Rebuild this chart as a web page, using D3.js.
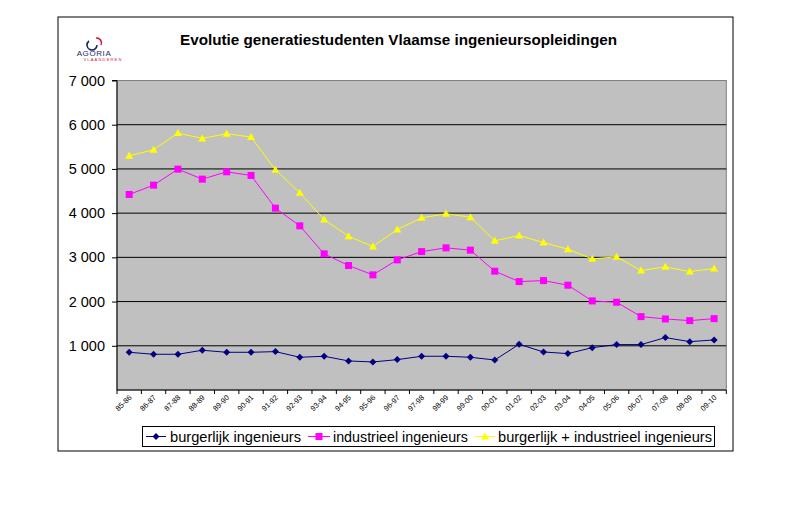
<!DOCTYPE html>
<html>
<head>
<meta charset="utf-8">
<script src="https://cdn.jsdelivr.net/npm/d3@7"></script>
<style>
html,body{margin:0;padding:0;background:#fff;}
svg{display:block;font-family:Arial,"Liberation Sans",sans-serif;}
</style>
</head>
<body>
<svg id="chart" width="791" height="527"></svg>
<script>
const categories = ["85-86","86-87","87-88","88-89","89-90","90-91","91-92","92-93","93-94","94-95","95-96","96-97","97-98","98-99","99-00","00-01","01-02","02-03","03-04","04-05","05-06","06-07","07-08","08-09","09-10"];
const burgerlijk = [853,808,808,899,853,853,868,740,763,657,634,687,763,763,740,679,1034,860,823,958,1027,1027,1185,1094,1132];
const industrieel = [4422,4633,4995,4769,4935,4852,4113,3713,3079,2815,2604,2943,3131,3215,3163,2687,2452,2475,2370,2015,1985,1660,1607,1569,1614];
const totaal = [5298,5434,5811,5690,5796,5721,4981,4460,3856,3479,3245,3630,3894,3985,3909,3373,3494,3336,3185,2966,3011,2702,2785,2679,2747];
const yTicks = [1000,2000,3000,4000,5000,6000,7000];
const seriesNames = ["burgerlijk ingenieurs","industrieel ingenieurs","burgerlijk + industrieel ingenieurs"];
const title = "Evolutie generatiestudenten Vlaamse ingenieursopleidingen";

const svg = d3.select("#chart");
const L = 117, R = 726.3, T = 80.5, B = 390;

// outer chart border
svg.append("rect").attr("x",58).attr("y",17).attr("width",675).attr("height",434)
  .attr("fill","#fff").attr("stroke","#000").attr("stroke-width",1);

// logo
const logo = svg.append("g");
logo.append("path").attr("d","M89,41 a5,5 0 1,0 8,4").attr("fill","none").attr("stroke","#1a2a6c").attr("stroke-width",1.6);
logo.append("path").attr("d","M96,38 a5,5 0 0,1 5,7").attr("fill","none").attr("stroke","#d4143c").attr("stroke-width",1.6);
logo.append("text").attr("x",94).attr("y",56).attr("text-anchor","middle")
  .attr("font-size",8).attr("fill","#1a2a6c").attr("letter-spacing",0.6).text("AGORIA");
logo.append("text").attr("x",103).attr("y",61).attr("text-anchor","middle")
  .attr("font-size",4).attr("fill","#d4143c").attr("letter-spacing",1.2).text("VLAANDEREN");

// title
svg.append("text").attr("x",180).attr("y",45)
  .attr("font-size",15).attr("font-weight","bold").attr("fill","#000")
  .attr("textLength",437).attr("lengthAdjust","spacingAndGlyphs").text(title);

const x = d3.scaleBand().domain(categories).range([L,R]);
const y = d3.scaleLinear().domain([0,7000]).range([B,T]);

// plot area
svg.append("rect").attr("x",L).attr("y",T).attr("width",R-L).attr("height",B-T)
  .attr("fill","#c0c0c0").attr("stroke","#808080").attr("stroke-width",1);

// gridlines
svg.append("g").selectAll("line").data(yTicks.filter(d=>d<7000)).join("line")
  .attr("x1",L).attr("x2",R).attr("y1",d=>y(d)).attr("y2",d=>y(d))
  .attr("stroke","#000").attr("stroke-width",1);

// y axis
const yAxis = d3.axisLeft(y).tickValues(yTicks).tickSize(5).tickPadding(7)
  .tickFormat(d=>d3.format(",")(d).replace(",", " "));
const gy = svg.append("g").attr("transform",`translate(${L},0)`).call(yAxis);
gy.select(".domain").attr("stroke","#000").attr("d",`M-5,${T}H0V${B}`);
gy.selectAll("text").attr("font-size",14.5).attr("font-family","Arial,'Liberation Sans',sans-serif").attr("fill","#000");
gy.selectAll(".tick line").attr("stroke","#000");

// x axis line and boundary ticks
svg.append("line").attr("x1",L).attr("x2",R).attr("y1",B).attr("y2",B).attr("stroke","#000");
const bounds = categories.map(c=>x(c)).concat([R]);
svg.append("g").selectAll("line").data(bounds).join("line")
  .attr("x1",d=>d).attr("x2",d=>d).attr("y1",B).attr("y2",B+4).attr("stroke","#000");

// x labels
svg.append("g").selectAll("text").data(categories).join("text")
  .attr("transform",d=>`translate(${x(d)+x.bandwidth()/2+3},${B+8}) rotate(-45)`)
  .attr("text-anchor","end").attr("font-size",7.5).attr("fill","#000").text(d=>d);

const cx = d => x(d)+x.bandwidth()/2;
const line = d3.line().x((d,i)=>cx(categories[i])).y(d=>y(d));

const colors = ["#000080","#ff00ff","#ffff00"];
const data = [burgerlijk, industrieel, totaal];

function marker(g, type, px, py, color){
  if(type===0){
    g.append("path").attr("d",`M${px},${py-3.5}L${px+3.5},${py}L${px},${py+3.5}L${px-3.5},${py}Z`).attr("fill",color);
  } else if(type===1){
    g.append("rect").attr("x",px-3.5).attr("y",py-3.5).attr("width",7).attr("height",7).attr("fill",color);
  } else {
    g.append("path").attr("d",`M${px},${py-4}L${px+4},${py+3}L${px-4},${py+3}Z`).attr("fill",color);
  }
}

data.forEach((vals,k)=>{
  svg.append("path").datum(vals).attr("d",line).attr("fill","none").attr("stroke",colors[k]).attr("stroke-width",1);
  const g = svg.append("g");
  vals.forEach((v,i)=>marker(g,k,cx(categories[i]),y(v),colors[k]));
});

// legend
const lg = svg.append("g");
lg.append("rect").attr("x",142.5).attr("y",426.5).attr("width",572).attr("height",20)
  .attr("fill","#fff").attr("stroke","#000").attr("stroke-width",1);
const legX = [[146,166,170,131],[308,330,333,135],[475,495,498,214]];
seriesNames.forEach((n,k)=>{
  const [a,b,t,w] = legX[k];
  lg.append("line").attr("x1",a).attr("x2",b).attr("y1",436.5).attr("y2",436.5).attr("stroke",colors[k]);
  marker(lg,k,(a+b)/2,436.5,colors[k]);
  lg.append("text").attr("x",t).attr("y",441.5).attr("font-size",14.5).attr("fill","#000")
    .attr("textLength",w).attr("lengthAdjust","spacingAndGlyphs").text(n);
});
</script>
</body>
</html>
